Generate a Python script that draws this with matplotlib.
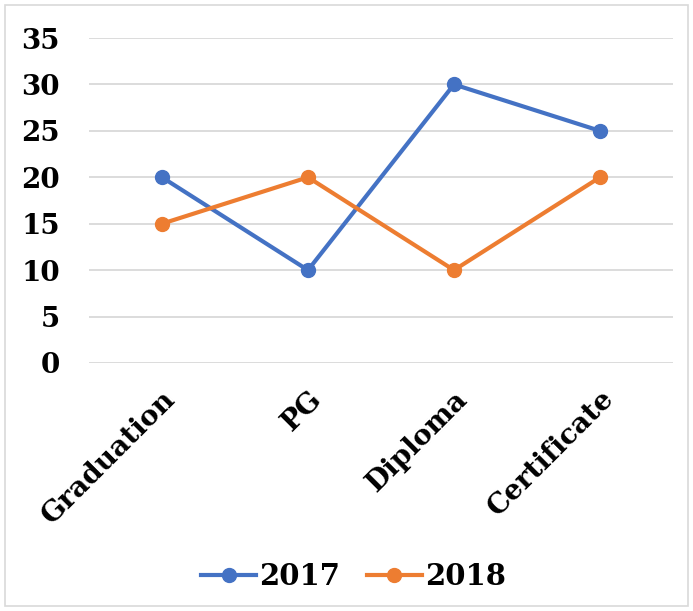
import matplotlib.pyplot as plt
from matplotlib.patches import Rectangle

categories = ["Graduation", "PG", "Diploma", "Certificate"]
values2017 = [20, 10, 30, 25]
values2018 = [15, 20, 10, 20]

plt.rcParams["font.family"] = ["DejaVu Serif"]
plt.rcParams["font.weight"] = "bold"

fig = plt.figure(figsize=(6.93, 6.11), dpi=100)
ax = fig.add_axes([0.1284, 0.4059, 0.8427, 0.5319])

x = range(len(categories))
ax.plot(x, values2017, color="#4472C4", lw=3, marker="o", ms=10, label="2017")
ax.plot(x, values2018, color="#ED7D31", lw=3, marker="o", ms=10, label="2018")

ax.set_xlim(-0.5, len(categories) - 0.5)
ax.set_ylim(0, 35)
ax.set_yticks(range(0, 36, 5))
ax.set_xticks(list(x))
ax.set_xticklabels(categories, rotation=45, ha="right", rotation_mode="anchor")
ax.tick_params(axis="both", length=0, labelsize=20)
ax.tick_params(axis="y", pad=21)
ax.tick_params(axis="x", pad=16)
for lab in ax.get_xticklabels() + ax.get_yticklabels():
    lab.set_fontweight("bold")

ax.grid(axis="y", color="#D9D9D9", lw=1.3)
ax.set_axisbelow(True)
for s in ax.spines.values():
    s.set_visible(False)

fig.legend(loc="center", bbox_to_anchor=(0.51, 0.056), ncol=2, frameon=False,
           prop={"size": 21, "weight": "bold"}, handlelength=1.9, handletextpad=0.1,
           columnspacing=0.9)

fig.patches.append(Rectangle((0.007, 0.008), 0.986, 0.984, transform=fig.transFigure,
                             fill=False, edgecolor="#D9D9D9", lw=1.2))

fig.savefig("out.png", dpi=100)
